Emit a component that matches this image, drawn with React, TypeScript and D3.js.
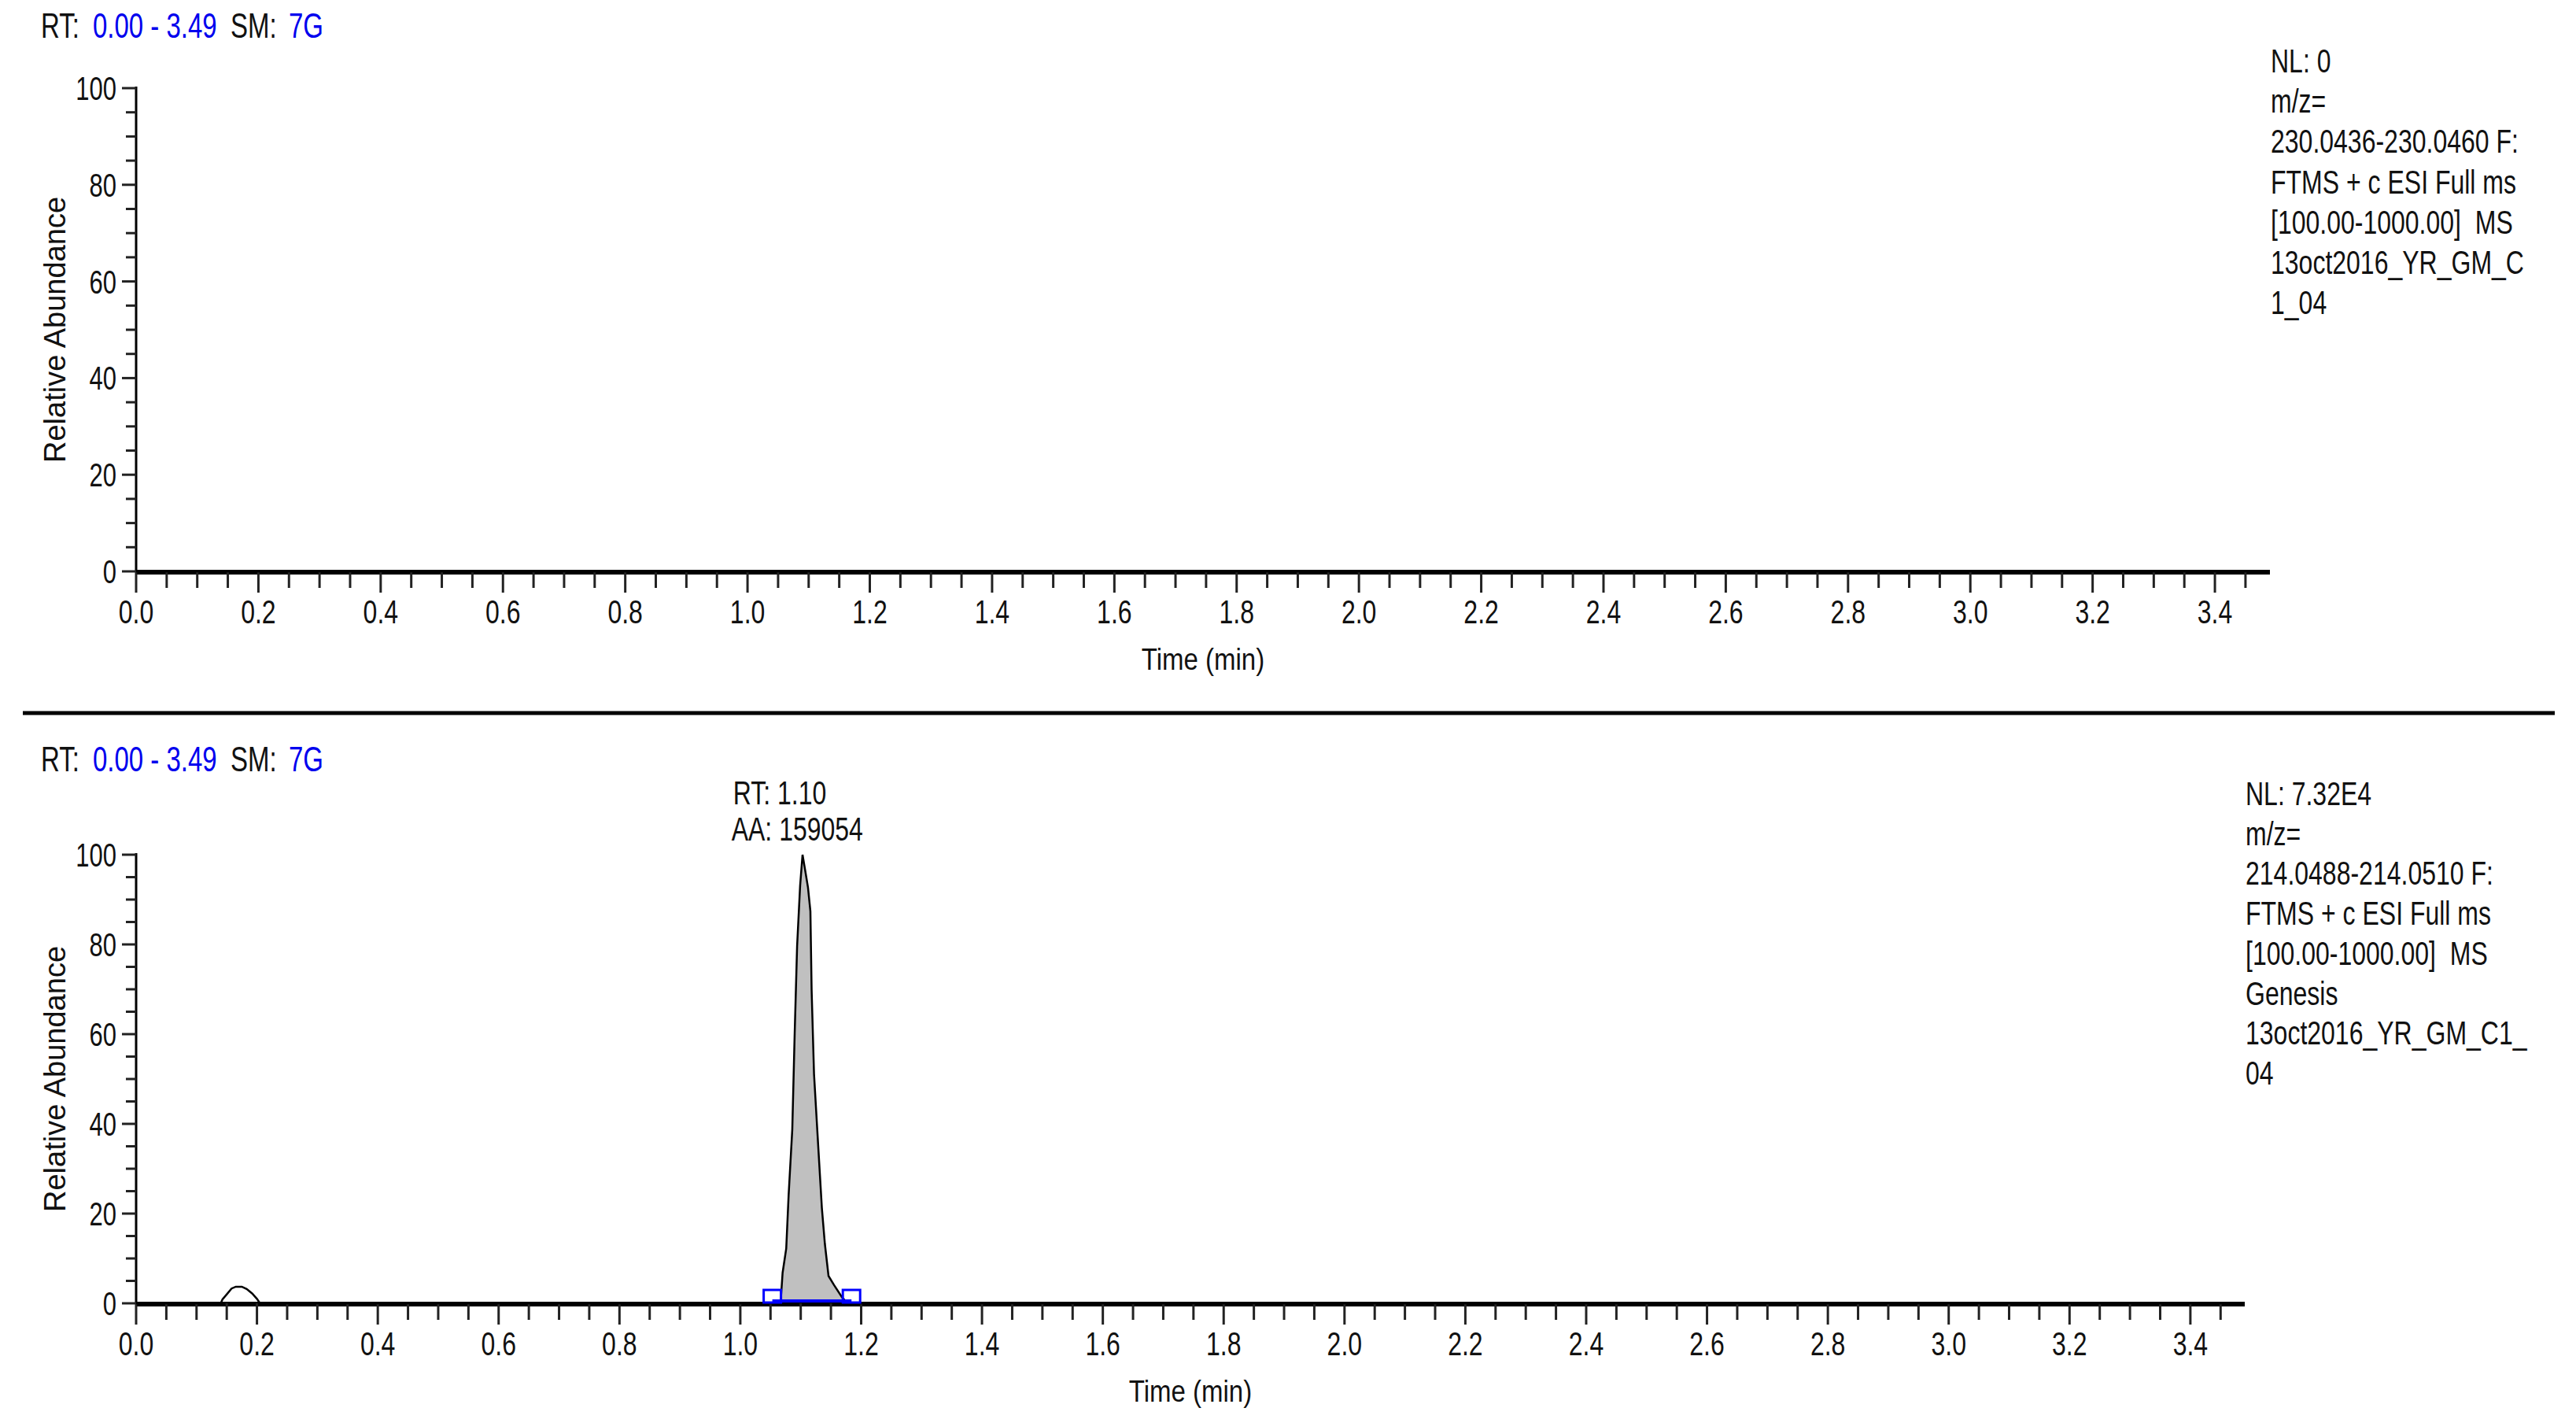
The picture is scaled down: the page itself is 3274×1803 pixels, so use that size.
import React from 'react';
import * as d3 from 'd3';

const W = 3274;
const H = 1803;
const FONT = '"Liberation Sans", Arial, sans-serif';

// top trace (NL: 0, flat)
const TIME_A = [0, 3.49];
const ABUND_A = [0, 0];

// bottom trace, m/z 214.0488-214.0510
const TIME_B = [0, 0.14, 0.143, 0.15, 0.158, 0.165, 0.175, 0.183, 0.192, 0.2, 0.205,
  1.053, 1.064, 1.067, 1.07, 1.076, 1.08, 1.086, 1.09, 1.094, 1.099, 1.103, 1.107, 1.112,
  1.116, 1.118, 1.122, 1.129, 1.135, 1.14, 1.146, 1.155, 1.168, 1.177, 1.184, 3.49];
const ABUND_B = [0, 0, 0.9, 2.0, 3.3, 3.7, 3.7, 3.2, 2.2, 1.0, 0,
  0, 0.3, 0.8, 6.8, 12.2, 24.2, 38.7, 60.2, 79.6, 93.1, 100, 96.8, 92.7,
  87.4, 69.9, 51.1, 34.9, 21.2, 13.2, 6.1, 4.1, 1.4, 0.1, 0, 0];

const PEAK_RT = 1.1;
const PEAK_START = 1.053;
const PEAK_END = 1.184;

const X_LABELS = ['0.0', '0.2', '0.4', '0.6', '0.8', '1.0', '1.2', '1.4', '1.6', '1.8', '2.0',
  '2.2', '2.4', '2.6', '2.8', '3.0', '3.2', '3.4'];
const Y_LABELS = [0, 20, 40, 60, 80, 100];

const INFO_A = ['NL: 0', 'm/z=', '230.0436-230.0460 F:', 'FTMS + c ESI Full ms',
  '[100.00-1000.00]  MS', '13oct2016_YR_GM_C', '1_04'];
const INFO_B = ['NL: 7.32E4', 'm/z=', '214.0488-214.0510 F:', 'FTMS + c ESI Full ms',
  '[100.00-1000.00]  MS', 'Genesis', '13oct2016_YR_GM_C1_', '04'];

const PANELS = [
  { top: 112, bottom: 726, left: 173, right: 2885, header: 48, time: TIME_A, abund: ABUND_A, info: INFO_A, infoY: 92, infoStep: 51.2, peak: false },
  { top: 1086, bottom: 1656, left: 173, right: 2853, header: 980, time: TIME_B, abund: ABUND_B, info: INFO_B, infoY: 1023, infoStep: 50.7, peak: true },
];

// text stretched vertically, like the original screen grab
function T({ x, y, size = 32, sy = 1.33, anchor = 'start', fill = '#111', children }) {
  return (
    <text transform={`translate(${x},${y}) scale(1,${sy})`} fontSize={size} textAnchor={anchor}
      fill={fill} fontFamily={FONT} style={{ whiteSpace: 'pre' }}>
      {children}
    </text>
  );
}

function Panel({ p }) {
  const x = d3.scaleLinear().domain([0, 3.49]).range([p.left, p.right]);
  const y = d3.scaleLinear().domain([0, 100]).range([p.bottom, p.top]);
  const pts = p.time.map((t, i) => [t, p.abund[i]]);
  const line = d3.line().x((d) => x(d[0])).y((d) => y(d[1]));
  const area = d3.area().x((d) => x(d[0])).y0(y(0)).y1((d) => y(d[1]));
  const peakPts = pts.filter((d) => d[0] >= PEAK_START && d[0] <= PEAK_END);

  const xMinor = d3.range(0, 70).map((i) => i * 0.05);
  const yMinor = d3.range(0, 21).map((i) => i * 5);
  const midY = (p.top + p.bottom) / 2;

  return (
    <g>
      {/* header */}
      <T x={52} y={p.header} size={33} sy={1.35}>RT:</T>
      <T x={118} y={p.header} size={33} sy={1.35} fill="#0000ee">0.00 - 3.49</T>
      <T x={293} y={p.header} size={33} sy={1.35}>SM:</T>
      <T x={367} y={p.header} size={33} sy={1.35} fill="#0000ee">7G</T>

      {/* integrated peak */}
      {p.peak && <path d={area(peakPts)} fill="#c0c0c0" />}

      {/* axes */}
      <line x1={p.left} x2={p.left} y1={y(100) - 2} y2={y(0)} stroke="#000" strokeWidth={3} />
      <line x1={p.left} x2={p.right} y1={y(0) + 1} y2={y(0) + 1} stroke="#000" strokeWidth={6} />
      {yMinor.map((v) => (
        <line key={'y' + v} x1={p.left - (v % 20 === 0 ? 18 : 13)} x2={p.left} y1={y(v)} y2={y(v)}
          stroke="#222" strokeWidth={3} />
      ))}
      {xMinor.map((t, i) => (
        <line key={'x' + i} x1={x(t)} x2={x(t)} y1={y(0)} y2={y(0) + (i % 4 === 0 ? 27 : 21)}
          stroke="#222" strokeWidth={3} />
      ))}
      {Y_LABELS.map((v) => (
        <T key={'yl' + v} x={p.left - 25} y={y(v) + 15} size={31} sy={1.35} anchor="end">{String(v)}</T>
      ))}
      {X_LABELS.map((s) => (
        <T key={'xl' + s} x={x(+s)} y={y(0) + 66} size={32} sy={1.33} anchor="middle">{s}</T>
      ))}
      <text transform={`translate(73,${midY}) rotate(-90)`} fontSize={38} textAnchor="middle"
        dominantBaseline="middle" fontFamily={FONT} fill="#111">Relative Abundance</text>
      <T x={(p.left + p.right) / 2} y={y(0) + 125} size={33} sy={1.2} anchor="middle">Time (min)</T>

      {/* trace */}
      <path d={line(pts)} fill="none" stroke="#000" strokeWidth={2.5} />

      {p.peak && (
        <g>
          <line x1={x(PEAK_START)} x2={x(PEAK_END)} y1={y(0) - 3} y2={y(0) - 3} stroke="#0000ff" strokeWidth={4} />
          {[PEAK_START, PEAK_END].map((t) => (
            <rect key={t} x={x(t) - 11} y={y(0) - 17} width={22} height={16} fill="none" stroke="#0000ff" strokeWidth={3} />
          ))}
          <T x={x(PEAK_RT) - 86} y={y(100) - 64} size={32} sy={1.35}>RT: 1.10</T>
          <T x={x(PEAK_RT) - 88} y={y(100) - 18} size={32} sy={1.35}>AA: 159054</T>
        </g>
      )}

      {/* info block */}
      {p.info.map((s, i) => (
        <T key={'i' + i} x={p.right + 1} y={p.infoY + i * p.infoStep} size={32} sy={1.3}>{s}</T>
      ))}
    </g>
  );
}

export default function App() {
  return (
    <div style={{ position: 'absolute', left: 0, top: 0, background: '#fff' }}>
      <svg width={W} height={H} viewBox={`0 0 ${W} ${H}`} style={{ display: 'block' }}>
        <rect width={W} height={H} fill="#fff" />
        {PANELS.map((p, i) => <Panel key={i} p={p} />)}
        <line x1={29} x2={3247} y1={906} y2={906} stroke="#000" strokeWidth={5} />
      </svg>
    </div>
  );
}
